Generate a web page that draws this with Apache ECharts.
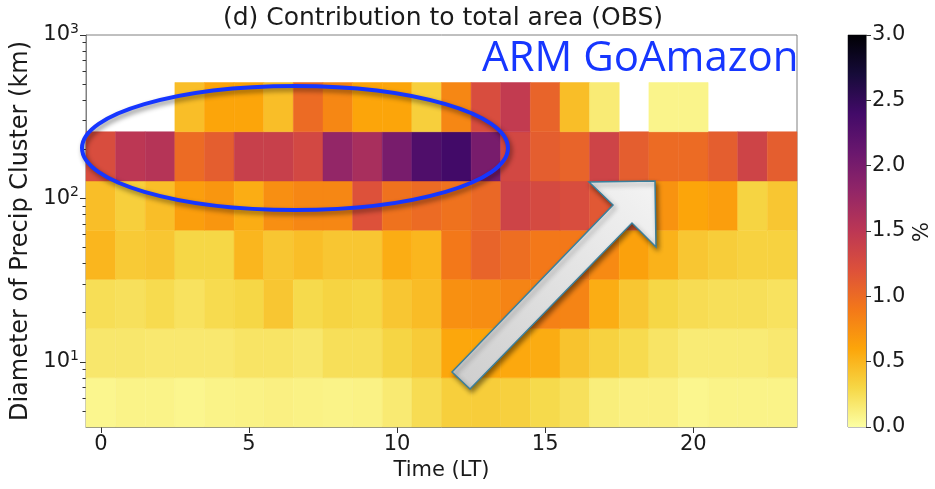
<!DOCTYPE html>
<html><head><meta charset="utf-8">
<script src="https://cdn.jsdelivr.net/npm/echarts@6/dist/echarts.min.js"></script>
<style>html,body{margin:0;padding:0;background:#fff}#c{width:935px;height:489px}</style>
</head><body><div id="c"></div>
<script>
// ---- data ----
const hours = [0,1,2,3,4,5,6,7,8,9,10,11,12,13,14,15,16,17,18,19,20,21,22,23];
const binEdges = [4,8,16,32,64,128,256,512];
const row_4_8     = [0.07,0.09,0.09,0.07,0.09,0.10,0.11,0.10,0.09,0.10,0.16,0.26,0.35,0.36,0.34,0.28,0.23,0.13,0.11,0.11,0.07,0.09,0.09,0.09];
const row_8_16    = [0.18,0.18,0.17,0.17,0.17,0.20,0.20,0.18,0.24,0.24,0.31,0.37,0.59,0.60,0.58,0.56,0.42,0.33,0.27,0.20,0.15,0.15,0.15,0.17];
const row_16_32   = [0.25,0.23,0.27,0.22,0.27,0.30,0.40,0.28,0.32,0.30,0.40,0.46,0.74,0.76,0.82,0.84,0.82,0.55,0.40,0.30,0.26,0.24,0.24,0.22];
const row_32_64   = [0.50,0.38,0.40,0.30,0.30,0.50,0.40,0.45,0.40,0.40,0.55,0.50,0.90,1.05,0.98,0.90,0.90,0.78,0.63,0.52,0.40,0.36,0.33,0.33];
const row_64_128  = [0.45,0.35,0.45,0.65,0.70,0.55,0.75,0.80,0.80,1.20,0.95,1.00,0.95,1.02,1.35,1.28,1.25,1.15,1.10,0.72,0.60,0.65,0.32,0.40];
const row_128_256 = [1.25,1.50,1.55,1.00,1.10,1.40,1.40,1.30,1.80,1.65,2.00,2.30,2.40,2.00,1.30,1.10,1.05,1.35,1.10,1.00,1.00,1.10,1.35,1.10];
const row_256_512 = [null,null,null,0.45,0.60,0.60,0.45,1.00,0.80,0.60,0.60,0.35,0.80,1.25,1.45,1.05,0.45,0.15,null,0.08,0.08,null,null,null];
const rows = [row_4_8,row_8_16,row_16_32,row_32_64,row_64_128,row_128_256,row_256_512];
const xTickValues = [0,5,10,15,20];
const yMajorTicks = [10,100,1000];
const yMinorTicks = [5,6,7,8,9,20,30,40,50,60,70,80,90,200,300,400,500,600,700,800,900];
const colorbarRange = [0,3];
const infernoStops = ['#000004','#160b39','#420a68','#6a176e','#932667','#bc3754','#dd513a','#f37819','#fca50a','#f6d746','#fcffa4'];

// ---- build ----
const cells = [];
rows.forEach((r, ri) => {
  r.forEach((v, hi) => {
    if (v !== null) cells.push([hours[hi], binEdges[ri], binEdges[ri+1], v]);
  });
});
const FONT = 'DejaVu Sans';
const chart = echarts.init(document.getElementById('c'), null, {renderer:'canvas'});
const gradStops = infernoStops.map((c,i)=>({offset:i/(infernoStops.length-1), color:c}));

chart.setOption({
  animation:false,
  backgroundColor:'#fff',
  textStyle:{fontFamily:FONT},
  title:{text:'(d) Contribution to total area (OBS)', left:438, top:1, textAlign:'center',
    textStyle:{fontFamily:FONT, fontSize:25, fontWeight:'normal', color:'#1a1a1a'}},
  grid:[
    {left:86, top:35, width:711, height:392, show:true, borderColor:'#808080', borderWidth:1},
    {left:848, top:35, width:18, height:392, show:true, borderColor:'#808080', borderWidth:1}
  ],
  xAxis:[
    {type:'value', gridIndex:0, min:-0.5, max:23.5,
      name:'Time (LT)', nameLocation:'middle', nameGap:30,
      nameTextStyle:{fontFamily:FONT, fontSize:21, color:'#1a1a1a'},
      axisLine:{show:true, onZero:false, lineStyle:{color:'#808080'}},
      axisTick:{show:true, customValues:xTickValues, length:6, lineStyle:{color:'#333'}},
      axisLabel:{customValues:xTickValues, fontSize:21, color:'#1a1a1a', margin:7, fontFamily:FONT},
      splitLine:{show:false}},
    {type:'value', gridIndex:1, min:0, max:1, show:false}
  ],
  yAxis:[
    {type:'log', logBase:10, gridIndex:0, min:4, max:1000, position:'left',
      name:'Diameter of Precip Cluster (km)', nameLocation:'middle', nameGap:36,
      nameTextStyle:{fontFamily:FONT, fontSize:24, color:'#1a1a1a'},
      axisLine:{show:true, onZero:false, lineStyle:{color:'#808080'}},
      axisTick:{show:true, customValues:yMajorTicks, length:6, lineStyle:{color:'#333'}},
      axisLabel:{customValues:yMajorTicks, margin:7,
        formatter:function(v){const e=Math.round(Math.log10(v));return '{b|10}{s|'+e+'}';},
        rich:{b:{fontSize:21, fontFamily:FONT, color:'#1a1a1a'}, s:{fontSize:14, fontFamily:FONT, color:'#1a1a1a', verticalAlign:'top', padding:[0,0,12,0]}}},
      splitLine:{show:false}},
    {type:'log', logBase:10, gridIndex:0, min:4, max:1000, position:'left',
      axisLine:{show:false, onZero:false}, axisLabel:{show:false}, splitLine:{show:false},
      axisTick:{show:true, customValues:yMinorTicks, length:3.5, lineStyle:{color:'#333'}}},
    {type:'value', gridIndex:1, min:colorbarRange[0], max:colorbarRange[1], interval:0.5, position:'right',
      axisLine:{show:true, onZero:false, lineStyle:{color:'#808080'}},
      axisTick:{show:true, length:5, lineStyle:{color:'#333'}},
      axisLabel:{fontSize:21, color:'#1a1a1a', margin:6, fontFamily:FONT, formatter:function(v){return v.toFixed(1);}},
      splitLine:{show:false}}
  ],
  visualMap:{type:'continuous', show:false, min:colorbarRange[0], max:colorbarRange[1], dimension:3, seriesIndex:0,
    inRange:{color:infernoStops.slice().reverse()}},
  series:[
    {type:'custom', xAxisIndex:0, yAxisIndex:0, data:cells, encode:{x:0, y:[1,2]},
      renderItem:function(params, api){
        const x=api.value(0), lo=api.value(1), hi=api.value(2);
        const p0=api.coord([x-0.5, hi]);
        const p1=api.coord([x+0.5, lo]);
        return {type:'rect', shape:{x:p0[0], y:p0[1], width:p1[0]-p0[0], height:p1[1]-p0[1]},
          style:{fill:api.visual('color'), stroke:api.visual('color'), lineWidth:0.5}};
      }},
    {type:'custom', xAxisIndex:1, yAxisIndex:2, data:[[0, colorbarRange[1]]], encode:{x:0, y:1},
      renderItem:function(params, api){
        const p0=api.coord([0, colorbarRange[1]]);
        const p1=api.coord([1, colorbarRange[0]]);
        return {type:'rect', shape:{x:p0[0], y:p0[1], width:p1[0]-p0[0], height:p1[1]-p0[1]},
          style:{fill:{type:'linear', x:0, y:0, x2:0, y2:1, colorStops:gradStops}}};
      }}
  ],
  graphic:[
    {type:'text', left:912, top:222, rotation:Math.PI/2, z:100,
      style:{text:'%', font:'21px "DejaVu Sans"', fill:'#1a1a1a'}},
    {type:'text', x:482, y:59, z:100,
      style:{text:'ARM GoAmazon', font:'42px "Open Sans"', fill:'#1636ff', textVerticalAlign:'middle'}},
    {type:'ellipse', z:100, shape:{cx:295, cy:148, rx:213, ry:62},
      style:{fill:null, stroke:'#1636ff', lineWidth:4, shadowBlur:5, shadowColor:'rgba(0,0,0,0.45)', shadowOffsetX:2, shadowOffsetY:3}},
    {type:'polygon', z:100,
      shape:{points:[[452,372],[613,205],[589,182],[655,181],[656,247],[632,223],[470,389]]},
      style:{fill:{type:'linear', x:1, y:0, x2:0, y2:1, colorStops:[{offset:0,color:'#f4f4f4'},{offset:1,color:'#cdcdcd'}]},
        stroke:'#3a7f9c', lineWidth:1.5, shadowBlur:5, shadowColor:'rgba(0,0,0,0.45)', shadowOffsetX:2, shadowOffsetY:3}}
  ]
});
</script></body></html>
